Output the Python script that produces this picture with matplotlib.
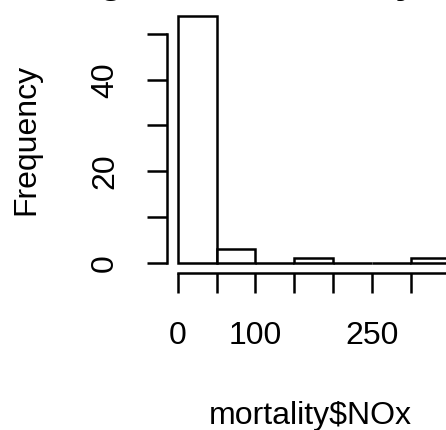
import matplotlib
matplotlib.use("Agg")
import matplotlib.pyplot as plt

# Histogram of NOx levels (bin edges and counts per bin)
bin_edges = [0, 50, 100, 150, 200, 250, 300, 350]
counts = [54, 3, 0, 1, 0, 0, 1]

x_ticks = [0, 50, 100, 150, 200, 250, 300, 350]
x_tick_labels = ["0", "", "100", "", "", "250", "", ""]
y_ticks = [0, 10, 20, 30, 40, 50]
y_tick_labels = ["0", "", "20", "", "40", ""]

title = "Histogram of mortality$NOx"
x_label = "mortality$NOx"
y_label = "Frequency"

plt.rcParams["font.family"] = ["Liberation Sans", "DejaVu Sans"]

W, H = 446, 430
fig = plt.figure(figsize=(W / 100, H / 100), dpi=100)

# plot region in pixels (left, right, top, bottom)
px_l, px_r, px_t, px_b = 166.7, 461.0, 5.8, 272.6
ax = fig.add_axes([px_l / W, 1 - px_b / H, (px_r - px_l) / W, (px_b - px_t) / H])

lw = 1.8
widths = [b - a for a, b in zip(bin_edges[:-1], bin_edges[1:])]
ax.bar(bin_edges[:-1], counts, width=widths, align="edge",
       facecolor="white", edgecolor="black", linewidth=lw)

pad_x = 0.04 * (bin_edges[-1] - bin_edges[0])
pad_y = 0.04 * max(counts)
ax.set_xlim(bin_edges[0] - pad_x, bin_edges[-1] + pad_x)
ax.set_ylim(-pad_y, max(counts) + pad_y)

for s in ("top", "right"):
    ax.spines[s].set_visible(False)
ax.spines["left"].set_bounds(y_ticks[0], y_ticks[-1])
ax.spines["bottom"].set_bounds(x_ticks[0], x_ticks[-1])
for s in ("left", "bottom"):
    ax.spines[s].set_linewidth(lw)

fs = 23
ax.set_xticks(x_ticks)
ax.set_xticklabels(x_tick_labels, fontsize=fs)
ax.set_yticks(y_ticks)
ax.set_yticklabels(y_tick_labels, fontsize=fs, rotation=90, va="center")
ax.tick_params(axis="both", length=14.5, width=lw, color="black")
ax.tick_params(axis="x", pad=20)
ax.tick_params(axis="y", pad=19)

# axis titles placed in figure pixels
cx = (px_l + px_r) / 2
cy = (px_t + px_b) / 2
fig.text((cx - 4) / W, 1 - 424 / H, x_label, fontsize=fs,
         ha="center", va="baseline")
fig.text(26 / W, 1 - cy / H, y_label, fontsize=fs, rotation=90,
         ha="center", va="center")

# main title sits above the top edge; only its descenders reach the canvas
fig.text((cx - 54) / W, 1 + 7 / H, title, fontsize=28,
         fontweight="bold", ha="center", va="baseline")

fig.savefig("out.png", dpi=100, facecolor="white")
